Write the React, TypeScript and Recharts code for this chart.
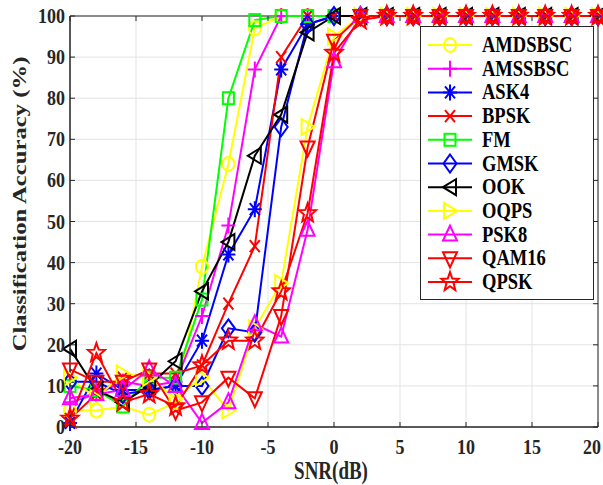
import React from 'react';
import { LineChart, Line, XAxis, YAxis, CartesianGrid, ReferenceArea, Label } from 'recharts';

const SNR = [-20, -18, -16, -14, -12, -10, -8, -6, -4, -2, 0, 2, 4, 6, 8, 10, 12, 14, 16, 18, 20];
const X_TICKS = [-20, -15, -10, -5, 0, 5, 10, 15, 20];
const Y_TICKS = [0, 10, 20, 30, 40, 50, 60, 70, 80, 90, 100];

const AMDSBSC = [4, 4, 5, 3, 6, 39, 64, 97, 100, 100, 100, 100, 100, 100, 100, 100, 100, 100, 100, 100, 100];
const AMSSBSC = [6, 8, 11, 10, 11, 27, 49, 87, 100, 100, 100, 100, 100, 100, 100, 100, 100, 100, 100, 100, 100];
const ASK4 = [1, 13, 9, 9, 10, 21, 42, 53, 87, 98, 100, 100, 100, 100, 100, 100, 100, 100, 100, 100, 100];
const BPSK = [2, 8, 12, 13, 13, 15, 30, 44, 90, 100, 100, 100, 100, 100, 100, 100, 100, 100, 100, 100, 100];
const FM = [10, 9, 5, 12, 12, 31, 80, 99, 100, 100, 100, 100, 100, 100, 100, 100, 100, 100, 100, 100, 100];
const GMSK = [11, 11, 8, 9, 10, 10, 24, 23, 73, 98, 100, 100, 100, 100, 100, 100, 100, 100, 100, 100, 100];
const OOK = [19, 9, 6, 10, 16, 33, 45, 66, 76, 96, 100, 100, 100, 100, 100, 100, 100, 100, 100, 100, 100];
const OQPS = [12, 7, 13, 12, 7, 12, 4, 24, 35, 73, 95, 100, 100, 100, 100, 100, 100, 100, 100, 100, 100];
const PSK8 = [7, 8, 9, 14, 10, 1, 6, 25, 22, 48, 89, 100, 100, 100, 100, 100, 100, 100, 100, 100, 100];
const QAM16 = [14, 11, 11, 14, 4, 6, 12, 7, 27, 68, 94, 100, 100, 100, 100, 100, 100, 100, 100, 100, 100];
const QPSK = [2, 18, 6, 8, 5, 15, 21, 21, 33, 52, 91, 99, 100, 100, 100, 100, 100, 100, 100, 100, 100];

const SERIES = [
  { name: 'AMDSBSC', values: AMDSBSC, color: '#FFFF00', shape: 'o' },
  { name: 'AMSSBSC', values: AMSSBSC, color: '#FF00FF', shape: '+' },
  { name: 'ASK4', values: ASK4, color: '#0000FF', shape: '*' },
  { name: 'BPSK', values: BPSK, color: '#FF0000', shape: 'x' },
  { name: 'FM', values: FM, color: '#00FF00', shape: 's' },
  { name: 'GMSK', values: GMSK, color: '#0000FF', shape: 'd' },
  { name: 'OOK', values: OOK, color: '#000000', shape: '<' },
  { name: 'OQPS', values: OQPS, color: '#FFFF00', shape: '>' },
  { name: 'PSK8', values: PSK8, color: '#FF00FF', shape: '^' },
  { name: 'QAM16', values: QAM16, color: '#FF0000', shape: 'v' },
  { name: 'QPSK', values: QPSK, color: '#FF0000', shape: 'p' },
];

const data = SNR.map((s, i) => {
  const row: any = { snr: s };
  SERIES.forEach((se) => { row[se.name] = se.values[i]; });
  return row;
});

const FONT = '"Liberation Serif", "Times New Roman", serif';
const SY = 1.3;
const TSY = 1.15;
const TXT = '#262626';
const AX_LEFT = 70;
const AX_RIGHT = 598;
const AX_TOP = 16;
const AX_BOTTOM = 427;

function Marker({ shape, cx, cy, color }: any) {
  const common = { stroke: color, strokeWidth: 2, fill: 'none' };
  if (cx == null || cy == null) return <g />;
  switch (shape) {
    case 'o':
      return <ellipse cx={cx} cy={cy} rx={6} ry={7} {...common} />;
    case '+':
      return <path d={`M${cx - 7},${cy}H${cx + 7}M${cx},${cy - 8}V${cy + 8}`} {...common} />;
    case '*':
      return <path d={`M${cx - 7},${cy}H${cx + 7}M${cx},${cy - 8}V${cy + 8}M${cx - 5},${cy - 6}L${cx + 5},${cy + 6}M${cx - 5},${cy + 6}L${cx + 5},${cy - 6}`} {...common} />;
    case 'x':
      return <path d={`M${cx - 5},${cy - 6}L${cx + 5},${cy + 6}M${cx - 5},${cy + 6}L${cx + 5},${cy - 6}`} {...common} />;
    case 's':
      return <rect x={cx - 5.5} y={cy - 6} width={11} height={12} {...common} />;
    case 'd':
      return <polygon points={`${cx},${cy - 9} ${cx + 6.5},${cy} ${cx},${cy + 9} ${cx - 6.5},${cy}`} {...common} />;
    case '<':
      return <polygon points={`${cx - 7},${cy} ${cx + 6},${cy - 8} ${cx + 6},${cy + 8}`} {...common} />;
    case '>':
      return <polygon points={`${cx + 7},${cy} ${cx - 6},${cy - 8} ${cx - 6},${cy + 8}`} {...common} />;
    case '^':
      return <polygon points={`${cx},${cy - 9} ${cx + 7},${cy + 6} ${cx - 7},${cy + 6}`} {...common} />;
    case 'v':
      return <polygon points={`${cx},${cy + 9} ${cx + 7},${cy - 6} ${cx - 7},${cy - 6}`} {...common} />;
    case 'p': {
      const pts: string[] = [];
      for (let k = 0; k < 10; k++) {
        const a = (-90 + k * 36) * Math.PI / 180;
        const r = k % 2 === 0 ? 9 : 3.8;
        pts.push(`${cx + r * Math.cos(a)},${cy + r * Math.sin(a) * 1.1}`);
      }
      return <polygon points={pts.join(' ')} {...common} />;
    }
    default:
      return <g />;
  }
}

const makeDot = (name: string, shape: string, color: string) => (p: any) => (
  <Marker key={`${name}-${p.index}`} shape={shape} cx={p.cx} cy={p.cy} color={color} />
);

function XTick(props: any) {
  const { x, payload } = props;
  const tx = Math.min(x, 592);
  return (
    <g>
      <line x1={x} x2={x} y1={AX_BOTTOM} y2={AX_BOTTOM - 5} stroke={TXT} strokeWidth={1} />
      <line x1={x} x2={x} y1={AX_TOP} y2={AX_TOP + 5} stroke={TXT} strokeWidth={1} />
      <g transform={`translate(${tx},454) scale(1,${TSY})`}>
        <text x={0} y={0} textAnchor="middle" fontFamily={FONT} fontWeight="bold" fontSize={18} fill={TXT}>{payload.value}</text>
      </g>
    </g>
  );
}

function YTick(props: any) {
  const { y, payload } = props;
  return (
    <g>
      <line x1={AX_LEFT} x2={AX_LEFT + 5} y1={y} y2={y} stroke={TXT} strokeWidth={1} />
      <line x1={AX_RIGHT} x2={AX_RIGHT - 5} y1={y} y2={y} stroke={TXT} strokeWidth={1} />
      <g transform={`translate(65,${y + 7}) scale(1,${TSY})`}>
        <text x={0} y={0} textAnchor="end" fontFamily={FONT} fontWeight="bold" fontSize={18} fill={TXT}>{payload.value}</text>
      </g>
    </g>
  );
}

function LegendBox() {
  const rowH = 23.7;
  return (
    <svg width={174} height={274} style={{ display: 'block' }}>
      <rect x={0.5} y={0.5} width={173} height={273} fill="#fff" stroke={TXT} strokeWidth={1} />
      {SERIES.map((s, i) => {
        const cy = 19 + i * rowH;
        return (
          <g key={s.name}>
            <line x1={8} x2={52} y1={cy} y2={cy} stroke={s.color} strokeWidth={2} />
            <Marker shape={s.shape} cx={30} cy={cy} color={s.color} />
            <g transform={`translate(62,${cy + 7}) scale(1,1.2)`}>
              <text x={0} y={0} fontFamily={FONT} fontWeight="bold" fontSize={18.5} fill="#000">{s.name}</text>
            </g>
          </g>
        );
      })}
    </svg>
  );
}

export default function App() {
  return (
    <div style={{ position: 'absolute', left: 0, top: 0, width: 603, height: 485, background: '#fff', overflow: 'hidden' }}>
      <LineChart width={603} height={485} data={data} margin={{ top: AX_TOP, right: 603 - AX_RIGHT, left: 0, bottom: 0 }}>
        <CartesianGrid stroke="#e3e3e3" strokeWidth={1} />
        <XAxis
          dataKey="snr"
          type="number"
          domain={[-20, 20]}
          ticks={X_TICKS}
          height={485 - AX_BOTTOM}
          axisLine={{ stroke: TXT, strokeWidth: 1 }}
          tickLine={false}
          tick={<XTick />}
          interval={0}
        >
          <Label
            content={() => (
              <g transform={`translate(331,479) scale(1,${SY})`}>
                <text x={0} y={0} textAnchor="middle" fontFamily={FONT} fontWeight="bold" fontSize={19} fill={TXT}>SNR(dB)</text>
              </g>
            )}
          />
        </XAxis>
        <YAxis
          type="number"
          domain={[0, 100]}
          ticks={Y_TICKS}
          width={AX_LEFT}
          axisLine={{ stroke: TXT, strokeWidth: 1 }}
          tickLine={false}
          tick={<YTick />}
          interval={0}
        >
          <Label
            content={() => (
              <g transform={`translate(26,204) scale(1,${SY}) rotate(-90)`}>
                <text x={0} y={0} textAnchor="middle" fontFamily={FONT} fontWeight="bold" fontSize={19} fill={TXT}>Classification Accuracy (%)</text>
              </g>
            )}
          />
        </YAxis>
        <ReferenceArea x1={-20} x2={20} y1={0} y2={100} fill="none" stroke={TXT} strokeWidth={1} ifOverflow="visible" />
        {SERIES.map((s) => (
          <Line
            key={s.name}
            type="linear"
            dataKey={s.name}
            stroke={s.color}
            strokeWidth={2}
            dot={makeDot(s.name, s.shape, s.color)}
            activeDot={false}
            isAnimationActive={false}
            legendType="none"
          />
        ))}
      </LineChart>
      <div style={{ position: 'absolute', left: 420, top: 26, width: 174, height: 274 }}>
        <LegendBox />
      </div>
    </div>
  );
}
